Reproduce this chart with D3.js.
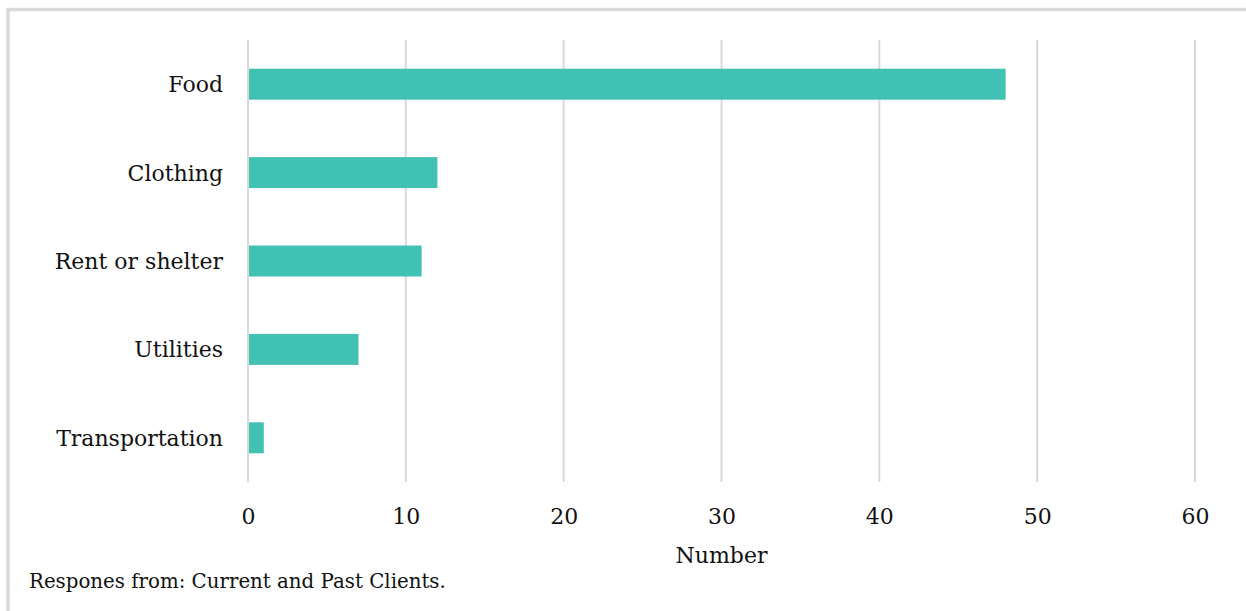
<!DOCTYPE html>
<html>
<head>
<meta charset="utf-8">
<script src="https://cdn.jsdelivr.net/npm/d3@7"></script>
<style>
  html, body { margin: 0; padding: 0; background: #fff; }
  svg { display: block; }
  text { font-family: "DejaVu Serif", serif; fill: #111; }
</style>
</head>
<body>
<svg id="chart" width="1246" height="611"></svg>
<script>
// Needs reported by respondents
const categories = ["Food", "Clothing", "Rent or shelter", "Utilities", "Transportation"];
const counts = [48, 12, 11, 7, 1];
const tickValues = [0, 10, 20, 30, 40, 50, 60];
const axisTitle = "Number";
const footnote = "Respones from: Current and Past Clients.";

const svg = d3.select("#chart");
const W = 1246, H = 611;

// outer frame (only top and left edges fall inside the view)
svg.append("rect")
  .attr("x", 8).attr("y", 9.5)
  .attr("width", W + 20).attr("height", H + 20)
  .attr("fill", "none")
  .attr("stroke", "#d9d9d9")
  .attr("stroke-width", 3.5);

const margin = { left: 248, right: 51, top: 40, bottom: 129 };
const x = d3.scaleLinear().domain([0, 60]).range([margin.left, W - margin.right]);
const y = d3.scaleBand().domain(categories).range([margin.top, H - margin.bottom]).paddingInner(0.65).paddingOuter(0.325);

// vertical gridlines
svg.append("g")
  .selectAll("line")
  .data(tickValues)
  .join("line")
  .attr("x1", d => x(d)).attr("x2", d => x(d))
  .attr("y1", margin.top).attr("y2", H - margin.bottom)
  .attr("stroke", "#d9d9d9")
  .attr("stroke-width", 2);

// bars
svg.append("g")
  .selectAll("rect")
  .data(categories)
  .join("rect")
  .attr("x", x(0) + 1)
  .attr("y", d => y(d))
  .attr("width", (d, i) => x(counts[i]) - x(0) - 1)
  .attr("height", y.bandwidth())
  .attr("fill", "#41c0b4");

// x axis tick labels
const xAxis = d3.axisBottom(x).tickValues(tickValues).tickSize(0).tickPadding(0);
const gx = svg.append("g")
  .attr("transform", `translate(0, ${H - margin.bottom + 26})`)
  .call(xAxis);
gx.select(".domain").remove();
gx.selectAll("text")
  .attr("dy", "0.71em")
  .style("font-family", "DejaVu Serif, serif")
  .style("font-size", "22px")
  .attr("fill", "#111");

// category labels
const yAxis = d3.axisLeft(y).tickSize(0).tickPadding(0);
const gy = svg.append("g")
  .attr("transform", `translate(${margin.left - 25}, 0)`)
  .call(yAxis);
gy.select(".domain").remove();
gy.selectAll("text")
  .attr("dy", "0.36em")
  .style("font-family", "DejaVu Serif, serif")
  .style("font-size", "22px")
  .attr("fill", "#111");

// axis title
svg.append("text")
  .attr("x", (x(0) + x(60)) / 2)
  .attr("y", 563)
  .attr("text-anchor", "middle")
  .style("font-size", "22px")
  .text(axisTitle);

// footnote
svg.append("text")
  .attr("x", 29)
  .attr("y", 588)
  .style("font-size", "19.8px")
  .text(footnote);
</script>
</body>
</html>
